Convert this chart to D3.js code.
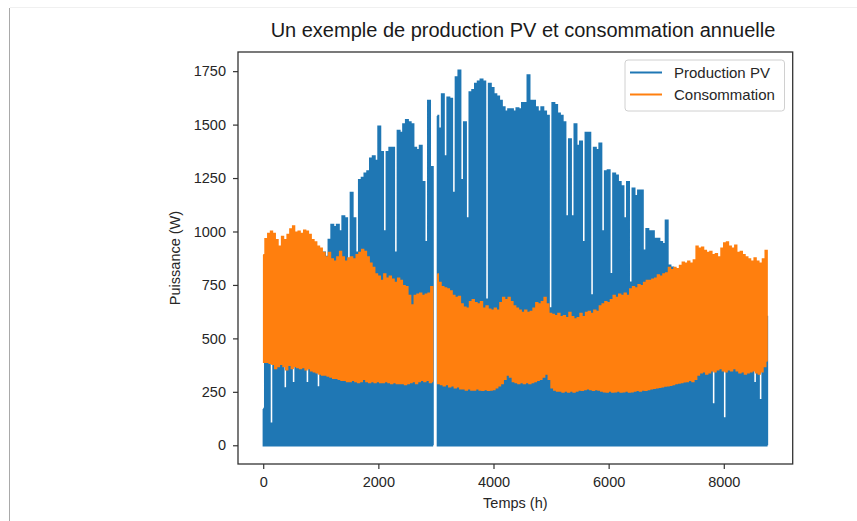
<!DOCTYPE html>
<html>
<head>
<meta charset="utf-8">
<script src="https://cdn.jsdelivr.net/npm/d3@7"></script>
<style>
  html, body { margin: 0; padding: 0; background: #fff; }
  svg { display: block; font-family: "Liberation Sans", Arial, sans-serif; }
</style>
</head>
<body>
<svg id="chart" width="857" height="521"></svg>
<script>
// one value every 48 h (peak of PV, high/low of consumption)
const STEP_HOURS = 48;
const LAST_HOUR = 8759;

const pvPeaks = [
  170, 700, 650, 100, 600, 650, 700, 600, 265, 700, 650, 290, 700, 750, 700, 800, 290, 750, 800, 850,
  270, 850, 900, 880, 960, 1030, 1020, 1030, 1000, 1070, 1060, 840, 1180, 1060, 900, 1240, 1250, 1270, 1280, 1340,
  1350, 1330, 1490, 1370, 1000, 1370, 1390, 1390, 900, 1470, 1460, 1500, 1520, 1510, 1500, 1390, 1380, 1400, 1230, 950,
  1610, 1300, null, 1540, 1480, 1640, 1350, 1625, 1620, 1180, 1720, 1752, 1240, 1510, 1060, 1650, 1660, 1690, 1700, 1710,
  1700, 680, 1690, 1670, 1640, 1630, 1610, 1580, 1560, 1570, 1570, 1560, 1575, 1570, 1600, 1600, 1730, 1610, 1610, 1580,
  1560, 1580, 1560, 1540, 640, 1600, 1590, 1550, 1540, 1510, 1070, 1430, 1070, 1500, 1400, 1420, 950, 1460, 1460, 700,
  1390, 1380, 1410, 1000, 1280, 1285, 800, 1270, 1260, 1230, 1210, 1060, 1230, 760, 1200, 1165, 1190, 1190, 910, 1010,
  1000, 1000, 965, 965, 950, 940, 1050, 840, 830, 820, 800, 650, 640, 660, 620, 650, 680, 640, 660, 650,
  630, 660, 640, 190, 650, 660, 640, 125, 650, 640, 660, 650, 620, 650, 640, 660, 650, 630, 290, 650,
  210, 650, 600
];

const consHigh = [
  890, 965, 990, 1000, 990, 960, 930, 975, 960, 985, 1010, 1025, 995, 1000, 990, 1005, 1000, 985, 960, 950,
  930, 920, 900, 880, 900, 870, 860, 880, 905, 880, 860, 875, 880, 870, 890, 900, 915, 905, 880, 850,
  830, 800, 790, 770, 800, 780, 790, 775, 760, 780, 770, 745, 740, 700, 655, 700, 705, 710, 700, 705,
  710, 740, null, 800, 760, 740, 735, 730, 720, 700, 690, 695, 660, 645, 640, 670, 680, 665, 660, 670,
  640, 650, 635, 630, 640, 630, 665, 690, 680, 690, 670, 650, 640, 630, 620, 630, 620, 625, 640, 665,
  660, 670, 690, 660, 615, 610, 605, 615, 600, 605, 595, 620, 600, 590, 595, 615, 600, 620, 625, 615,
  630, 625, 650, 660, 670, 665, 680, 700, 690, 705, 700, 710, 700, 730, 740, 735, 750, 745, 760, 770,
  770, 775, 780, 795, 790, 800, 805, 830, 820, 830, 825, 840, 855, 850, 860, 850, 865, 930, 920, 925,
  910, 900, 905, 890, 895, 880, 920, 945, 950, 930, 920, 935, 900, 905, 890, 880, 870, 860, 875, 860,
  850, 870, 910
];

const consLow = [
  390, 390, 385, 380, 360, 370, 380, 370, 355, 375, 360, 370, 365, 360, 365, 355, 360, 350, 345, 340,
  335, 330, 330, 325, 320, 315, 315, 310, 305, 305, 300, 300, 305, 300, 295, 300, 310, 300, 295, 300,
  295, 300, 295, 295, 300, 295, 290, 295, 290, 290, 290, 285, 290, 295, 300, 290, 300, 305, 300, 305,
  295, 300, null, 290, 285, 280, 285, 275, 280, 270, 275, 265, 265, 260, 265, 260, 260, 265, 260, 258,
  262, 258, 260, 262, 270, 280, 290, 310, 330, 320, 300, 295, 290, 295, 290, 295, 290, 295, 300, 305,
  310, 320, 335, 310, 270, 260, 255, 255, 250, 255, 250, 255, 250, 255, 260, 258, 262, 265, 262, 258,
  262, 260, 255, 252, 250, 255, 250, 252, 255, 250, 252, 255, 250, 252, 255, 258, 255, 260, 258, 262,
  265, 268, 270, 272, 275, 278, 280, 282, 285, 290, 292, 295, 298, 300, 305, 300, 310, 330, 340, 345,
  335, 340, 350, 345, 355, 360, 350, 345, 355, 350, 360, 350, 340, 345, 335, 340, 345, 350, 340, 335,
  345, 370, 395
];

const xTicks = [0, 2000, 4000, 6000, 8000];
const yTicks = [0, 250, 500, 750, 1000, 1250, 1500, 1750];
const seriesNames = ['Production PV', 'Consommation'];
const seriesColors = ['#1f77b4', '#ff7f0e'];
const chartTitle = 'Un exemple de production PV et consommation annuelle';
const xLabel = 'Temps (h)';
const yLabel = 'Puissance (W)';

const svg = d3.select('#chart');
const box = { left: 238, right: 792.7, top: 52, bottom: 464 };

// matplotlib style 5% margins
const pad = (lo, hi) => { const m = (hi - lo) * 0.05; return [lo - m, hi + m]; };

const x = d3.scaleLinear().domain(pad(0, LAST_HOUR)).range([box.left, box.right]);
const y = d3.scaleLinear().domain(pad(0, d3.max(pvPeaks))).range([box.bottom, box.top]);

// screenshot frame lines
svg.append('line')
    .attr('x1', 9.5).attr('x2', 9.5).attr('y1', 8).attr('y2', 521)
    .attr('stroke', '#a9a9a9').attr('stroke-width', 1);
svg.append('line')
    .attr('x1', 10).attr('x2', 857).attr('y1', 7.5).attr('y2', 7.5)
    .attr('stroke', '#f0f0f0').attr('stroke-width', 1);

// day peak then night value, per step
const pvPoints = pvPeaks.flatMap((v, i) => [
    [i * STEP_HOURS, v],
    [i * STEP_HOURS + STEP_HOURS / 2, v === null ? null : 0]
]);
const consPoints = consHigh.flatMap((v, i) => [
    [i * STEP_HOURS, v],
    [i * STEP_HOURS + STEP_HOURS / 2, consLow[i]]
]);

const line = d3.line()
    .defined(d => d[1] !== null)
    .x(d => x(d[0]))
    .y(d => y(d[1]))
    .curve(d3.curveStep);

svg.append('path')
    .attr('d', line(pvPoints))
    .attr('fill', 'none')
    .attr('stroke', seriesColors[0])
    .attr('stroke-width', 2.6);

svg.append('path')
    .attr('d', line(consPoints))
    .attr('fill', 'none')
    .attr('stroke', seriesColors[1])
    .attr('stroke-width', 2);

// axes
const xAxis = svg.append('g')
    .attr('transform', `translate(0,${box.bottom})`)
    .call(d3.axisBottom(x).tickValues(xTicks).tickSize(5).tickPadding(8).tickFormat(d3.format('d')));

const yAxis = svg.append('g')
    .attr('transform', `translate(${box.left},0)`)
    .call(d3.axisLeft(y).tickValues(yTicks).tickSize(5).tickPadding(7).tickFormat(d3.format('d')));

[xAxis, yAxis].forEach(g => {
    g.select('.domain').remove();
    g.selectAll('.tick line').attr('stroke', '#333').attr('stroke-width', 1.2);
    g.selectAll('.tick text')
        .attr('fill', '#262626')
        .style('font-size', '14.5px')
        .style('font-family', '"Liberation Sans", Arial, sans-serif');
});

svg.append('rect')
    .attr('x', box.left)
    .attr('y', box.top)
    .attr('width', box.right - box.left)
    .attr('height', box.bottom - box.top)
    .attr('fill', 'none')
    .attr('stroke', '#333')
    .attr('stroke-width', 1.3);

// labels
svg.append('text')
    .attr('x', 523)
    .attr('y', 37)
    .attr('text-anchor', 'middle')
    .attr('fill', '#1a1a1a')
    .style('font-size', '20px')
    .text(chartTitle);

svg.append('text')
    .attr('x', (box.left + box.right) / 2)
    .attr('y', 508)
    .attr('text-anchor', 'middle')
    .attr('fill', '#262626')
    .style('font-size', '14.5px')
    .text(xLabel);

svg.append('text')
    .attr('transform', `translate(180,${(box.top + box.bottom) / 2}) rotate(-90)`)
    .attr('text-anchor', 'middle')
    .attr('fill', '#262626')
    .style('font-size', '14.5px')
    .text(yLabel);

// legend
const legend = svg.append('g').attr('transform', 'translate(625,60)');

legend.append('rect')
    .attr('width', 159.5)
    .attr('height', 51)
    .attr('rx', 3)
    .attr('fill', '#fff')
    .attr('fill-opacity', 0.8)
    .attr('stroke', '#d0d0d0');

seriesNames.forEach((name, i) => {
    const yy = 12.5 + i * 22;
    legend.append('line')
        .attr('x1', 5).attr('x2', 37)
        .attr('y1', yy).attr('y2', yy)
        .attr('stroke', seriesColors[i])
        .attr('stroke-width', 2);
    legend.append('text')
        .attr('x', 49)
        .attr('y', yy + 5.3)
        .attr('fill', '#262626')
        .style('font-size', '15px')
        .text(name);
});
</script>
</body>
</html>
